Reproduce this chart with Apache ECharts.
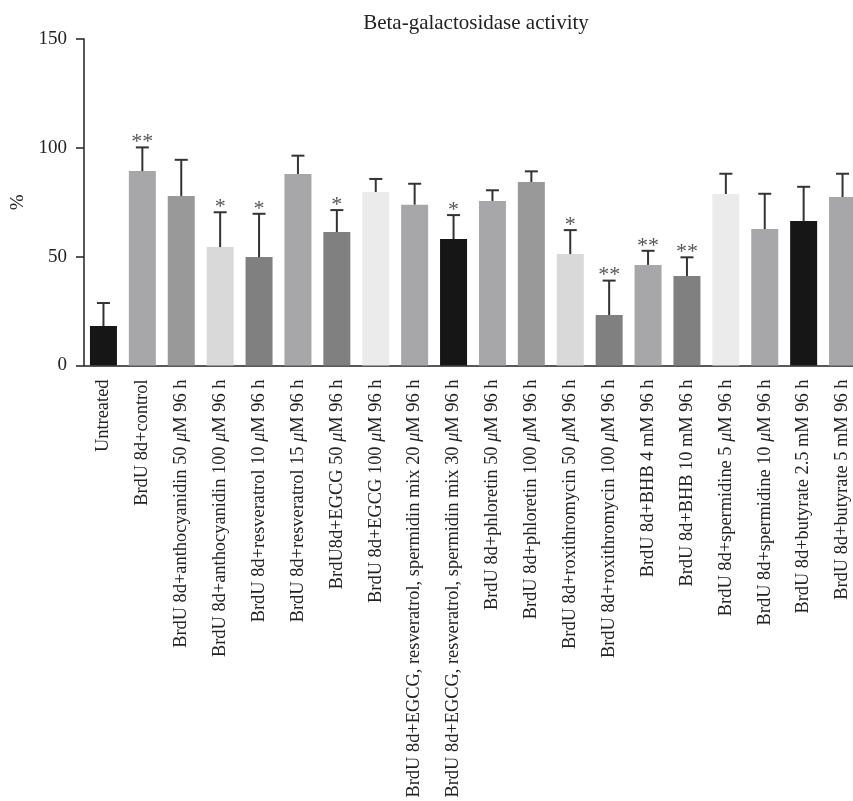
<!DOCTYPE html>
<html>
<head>
<meta charset="utf-8">
<script src="https://cdn.jsdelivr.net/npm/echarts@6/dist/echarts.min.js"></script>
<style>html,body{margin:0;padding:0;background:#fff}#c{width:853px;height:801px}</style>
</head>
<body>
<div id="c"></div>
<script>
const categories = [
  "Untreated",
  "BrdU 8d+control",
  "BrdU 8d+anthocyanidin 50 μM 96 h",
  "BrdU 8d+anthocyanidin 100 μM 96 h",
  "BrdU 8d+resveratrol 10 μM 96 h",
  "BrdU 8d+resveratrol 15 μM 96 h",
  "BrdU8d+EGCG 50 μM 96 h",
  "BrdU 8d+EGCG 100 μM 96 h",
  "BrdU 8d+EGCG, resveratrol, spermidin mix 20 μM 96 h",
  "BrdU 8d+EGCG, resveratrol, spermidin mix 30 μM 96 h",
  "BrdU 8d+phloretin 50 μM 96 h",
  "BrdU 8d+phloretin 100 μM 96 h",
  "BrdU 8d+roxithromycin 50 μM 96 h",
  "BrdU 8d+roxithromycin 100 μM 96 h",
  "BrdU 8d+BHB 4 mM 96 h",
  "BrdU 8d+BHB 10 mM 96 h",
  "BrdU 8d+spermidine 5 μM 96 h",
  "BrdU 8d+spermidine 10 μM 96 h",
  "BrdU 8d+butyrate 2.5 mM 96 h",
  "BrdU 8d+butyrate 5 mM 96 h"
];
const meanValues = [18.1, 89.3, 77.9, 54.4, 49.8, 88.0, 61.3, 79.7, 73.9, 58.1, 75.6, 84.3, 51.2, 23.2, 46.2, 41.1, 78.8, 62.7, 66.4, 77.4];
const sdValues   = [10.6, 10.9, 16.6, 16.0, 19.9, 8.4, 10.1, 6.0, 9.6, 11.0, 4.9, 4.9, 11.0, 15.8, 6.5, 8.6, 9.3, 16.2, 15.7, 10.7];
const significance = ["", "**", "", "*", "*", "", "*", "", "", "*", "", "", "*", "**", "**", "**", "", "", "", ""];
const barColors = ["#161616", "#a7a6a9", "#999999", "#d9d9d9", "#808080", "#a7a6a9", "#808080", "#ebebeb", "#a7a6a9", "#161616",
                   "#a7a6a9", "#999999", "#d9d9d9", "#808080", "#a7a6a9", "#808080", "#ebebeb", "#a7a6a9", "#161616", "#a7a6a9"];
const yTicks = [0, 50, 100, 150];

const FONT = "'Liberation Serif', 'DejaVu Serif', serif";
const LABEL_SIZE = 18.4;
const chart = echarts.init(document.getElementById('c'), null, {renderer: 'canvas'});

const option = {
  backgroundColor: '#fff',
  animation: false,
  title: {
    text: 'Beta-galactosidase activity',
    left: 471, top: 8, textAlign: 'center',
    textStyle: {fontFamily: FONT, fontSize: 21, fontWeight: 'normal', color: '#222'}
  },
  grid: {left: 84, top: 39, width: 778, height: 326.5, containLabel: false, outerBoundsMode: 'none'},
  xAxis: {
    type: 'category',
    data: categories,
    axisLine: {lineStyle: {color: '#222', width: 1.5}},
    axisTick: {alignWithLabel: true, length: 7, lineStyle: {color: '#222', width: 1.5}},
    axisLabel: {
      rotate: 90, interval: 0, margin: 14,
      fontFamily: FONT, fontSize: LABEL_SIZE, color: '#222',
      formatter: function (v) {
        return v.split('μ').map(function (s) { return s === '' ? '' : '{n|' + s + '}'; }).join('{i|μ}');
      },
      rich: {
        n: {fontFamily: FONT, fontSize: LABEL_SIZE, color: '#222'},
        i: {fontFamily: FONT, fontSize: LABEL_SIZE, color: '#222', fontStyle: 'italic'}
      }
    }
  },
  yAxis: {
    type: 'value', min: yTicks[0], max: yTicks[yTicks.length - 1], interval: 50,
    name: '%', nameLocation: 'middle', nameGap: 50, nameRotate: 90,
    nameTextStyle: {fontFamily: FONT, fontSize: 19, color: '#222'},
    splitLine: {show: false},
    axisLine: {show: true, lineStyle: {color: '#222', width: 1.5}},
    axisTick: {show: true, length: 8, lineStyle: {color: '#222', width: 1.5}},
    axisLabel: {fontFamily: FONT, fontSize: 19, color: '#222', margin: 17}
  },
  series: [
    {
      type: 'bar',
      barWidth: 27,
      data: meanValues.map(function (v, i) { return {value: v, itemStyle: {color: barColors[i]}}; }),
      z: 2
    },
    {
      type: 'custom',
      z: 3,
      data: meanValues.map(function (v, i) { return [i, v, sdValues[i]]; }),
      renderItem: function (params, api) {
        const i = api.value(0), m = api.value(1), s = api.value(2);
        const p0 = api.coord([i, m]);
        const p1 = api.coord([i, m + s]);
        const half = 6.5;
        const children = [
          {type: 'line', shape: {x1: p0[0], y1: p0[1], x2: p1[0], y2: p1[1]}, style: {stroke: '#333', lineWidth: 2}},
          {type: 'line', shape: {x1: p1[0] - half, y1: p1[1], x2: p1[0] + half, y2: p1[1]}, style: {stroke: '#333', lineWidth: 2}}
        ];
        const sig = significance[params.dataIndex];
        if (sig) {
          children.push({
            type: 'text',
            style: {text: sig, x: p1[0], y: p1[1] - 5, align: 'center', verticalAlign: 'middle',
                    fontFamily: FONT, fontSize: 22, fill: '#555'}
          });
        }
        return {type: 'group', children: children};
      }
    }
  ]
};
chart.setOption(option);
</script>
</body>
</html>
